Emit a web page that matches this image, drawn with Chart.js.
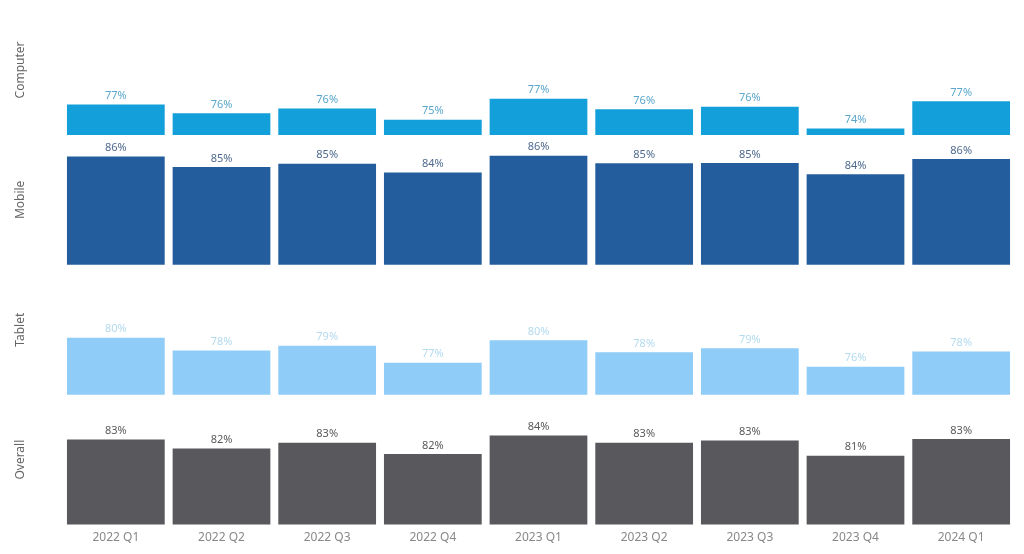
<!DOCTYPE html>
<html lang="en">
<head>
    <meta charset="UTF-8">
    <title>Device Share by Quarter</title>
    <script src="https://cdn.jsdelivr.net/npm/chart.js"></script>
    <style>
        body {
            margin: 0;
            background: #ffffff;
        }
        #wrap {
            width: 1024px;
            height: 554px;
        }
    </style>
</head>
<body>
    <div id="wrap"><canvas id="deviceChart"></canvas></div>

    <script>
        // Data
        const quarters = ['2022 Q1', '2022 Q2', '2022 Q3', '2022 Q4', '2023 Q1', '2023 Q2', '2023 Q3', '2023 Q4', '2024 Q1'];
        const computer = [76.6, 75.5, 76.1, 74.7, 77.3, 76.0, 76.3, 73.6, 77.0];
        const mobile   = [86.3, 85.0, 85.4, 84.3, 86.4, 85.45, 85.49, 84.1, 86.0];
        const tablet   = [79.9, 78.3, 78.9, 76.8, 79.6, 78.1, 78.6, 76.3, 78.2];
        const overall  = [83.4, 82.3, 83.0, 81.6, 83.9, 83.0, 83.3, 81.4, 83.49];
        const rowNames = ['Computer', 'Mobile', 'Tablet', 'Overall'];

        const barColors   = ['#139fda', '#235d9d', '#8fcdf8', '#59585c'];
        const labelColors = ['#5aa6cc', '#4f6a8f', '#b3daef', '#5a5a5a'];
        const rows = [computer, mobile, tablet, overall];

        // simple value label plugin (no datalabels available)
        const valueLabels = {
            id: 'valueLabels',
            afterDatasetsDraw(chart) {
                const ctx = chart.ctx;
                ctx.save();
                ctx.font = '11px "Noto Sans"';
                ctx.textAlign = 'center';
                ctx.textBaseline = 'bottom';
                chart.data.datasets.forEach((ds, i) => {
                    chart.getDatasetMeta(i).data.forEach((bar, j) => {
                        ctx.fillStyle = labelColors[i];
                        ctx.fillText(Math.round(ds.data[j]) + '%', bar.x, bar.y - 3);
                    });
                });
                ctx.restore();
            }
        };

        // stacked y axes: the first one defined ends up at the bottom,
        // so build them from the last row up
        const yScales = {};
        for (let i = rowNames.length - 1; i >= 0; i--) {
            yScales['y' + i] = {
                type: 'linear',
                position: 'left',
                stack: 'rows',
                stackWeight: 1,
                min: 72.8,
                max: 89,
                grid: { display: false, drawTicks: false },
                border: { display: false },
                ticks: { display: false },
                title: {
                    display: true,
                    text: rowNames[i],
                    color: '#666666',
                    font: { family: 'Noto Sans', size: 12 },
                    padding: { top: 4, bottom: 4 }
                },
                afterFit: s => { s.width = 54; }
            };
        }

        new Chart(document.getElementById('deviceChart'), {
            type: 'bar',
            data: {
                labels: quarters,
                datasets: rows.map((vals, i) => ({
                    label: rowNames[i],
                    data: vals,
                    yAxisID: 'y' + i,
                    grouped: false,
                    backgroundColor: barColors[i],
                    categoryPercentage: 1,
                    barPercentage: 0.925
                }))
            },
            options: {
                responsive: true,
                maintainAspectRatio: false,
                animation: false,
                layout: { padding: { left: 9, right: 10, top: 5, bottom: 3 } },
                plugins: {
                    legend: { display: false },
                    tooltip: { enabled: false }
                },
                scales: Object.assign({
                    x: {
                        grid: { display: false, drawTicks: false },
                        border: { display: false },
                        ticks: {
                            color: '#888888',
                            padding: 6,
                            font: { family: 'Noto Sans', size: 12 }
                        }
                    }
                }, yScales)
            },
            plugins: [valueLabels]
        });
    </script>
</body>
</html>
